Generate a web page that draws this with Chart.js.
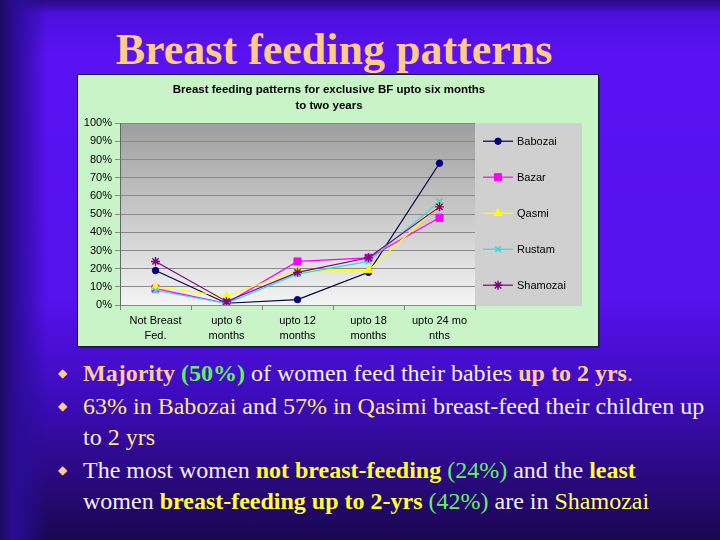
<!DOCTYPE html>
<html>
<head>
<meta charset="utf-8">
<script src="https://cdn.jsdelivr.net/npm/chart.js@4.4.0/dist/chart.umd.min.js"></script>
<style>
  html, body { margin: 0; padding: 0; }
  #slide {
    position: relative; width: 720px; height: 540px; overflow: hidden;
    background:
      linear-gradient(to right, #1c0a5e 0px, #2a0c96 14px, rgba(60,14,200,0) 48px),
      linear-gradient(to bottom, #2a0a86 0px, #4a10dc 14px, #5a12f2 55px, #5611ec 300px, #3e0cc0 390px, #24086e 500px, #1a0650 540px);
  }
  #title {
    position: absolute; left: 0; width: 668px; top: 28px; text-align: center;
    font: bold 44px/44px "Liberation Serif", "Times New Roman", serif;
    color: #ffcc88; white-space: nowrap;
  }
  #box {
    position: absolute; left: 78px; top: 75px; width: 520px; height: 271px;
    background: #c8f4c8; outline: 1px solid #1c1840;
    box-shadow: 2px 2px 0 #2a2060;
  }
  #box canvas { display: block; }
  #bullets {
    position: absolute; left: 83px; top: 358px;
    font: 24px/31px "Liberation Serif", "Times New Roman", serif;
    color: #f4eeff; white-space: nowrap;
  }
  #bullets p { position: relative; margin: 0 0 2px 0; }
  #bullets p::before {
    content: "\25C6"; position: absolute; left: -25px; top: 0;
    font: 12px/31px "DejaVu Sans", sans-serif; color: #ffcc90;
  }
  .pe { color: #ffcc99; }
  .gr { color: #66ee66; }
  .ye { color: #ffe680; }
  .yb { color: #ffff33; font-weight: bold; }
  .ys { color: #ffff66; }
  b { font-weight: bold; }
</style>
</head>
<body>
<div id="slide">
  <div id="title">Breast feeding patterns</div>
  <div id="box"><canvas id="chart" width="520" height="271"></canvas></div>
  <div id="bullets">
    <p><b class="pe">Majority</b> <b class="gr">(50%)</b> of women feed their babies <b class="pe">up to 2 yrs</b><span class="pe">.</span></p>
    <p><span class="ye">63% in Babozai</span> and <span class="ye">57% in Qasimi</span> breast-feed their children up<br>to <span class="ye">2 yrs</span></p>
    <p>The most women <span class="yb">not breast-feeding</span> <span class="gr">(24%)</span> and the <span class="yb">least</span><br>women <span class="yb">breast-feeding up to 2-yrs</span> <span class="gr">(42%)</span> are in <span class="ys">Shamozai</span></p>
  </div>
</div>

<script>
const categories = [['Not Breast', 'Fed.'], ['upto 6', 'months'], ['upto 12', 'months'], ['upto 18', 'months'], ['upto 24 mo', 'nths']];
const seriesNames = ['Babozai', 'Bazar', 'Qasmi', 'Rustam', 'Shamozai'];
const babozai = [19, 1, 3, 18, 78];
const bazar = [9, 1, 24, 26, 48];
const qasmi = [10, 5, 19, 19, 55];
const rustam = [8, 1, 17, 24, 57];
const shamozai = [24, 2, 18, 26, 54];
const yTicks = [0, 10, 20, 30, 40, 50, 60, 70, 80, 90, 100];
const chartTitle = ['Breast feeding patterns for exclusive BF upto six months', 'to two years'];

const seriesValues = [babozai, bazar, qasmi, rustam, shamozai];
const looks = [
    { line: '#000040', point: '#000080', style: 'circle', r: 3.2, bw: 1 },
    { line: '#ff00ff', point: '#ff00ff', style: 'rect', r: 5, bw: 1 },
    { line: '#ffff00', point: '#ffff00', style: 'triangle', r: 4.5, bw: 1 },
    { line: '#33dddd', point: '#33dddd', style: 'crossRot', r: 4, bw: 1.6 },
    { line: '#800080', point: '#800080', style: 'star', r: 4.5, bw: 1.4 }
];
const font = 'Liberation Sans, Arial, sans-serif';

// gray gradient behind the plot, gray box behind the legend
const plotBg = {
    id: 'plotBg',
    beforeDraw(chart) {
        const { ctx, chartArea: a } = chart;
        const g = ctx.createLinearGradient(0, a.top, 0, a.bottom);
        g.addColorStop(0, '#9e9e9e');
        g.addColorStop(1, '#f4f4f4');
        ctx.save();
        ctx.fillStyle = g;
        ctx.fillRect(a.left, a.top, a.width, a.bottom - a.top);
        ctx.fillStyle = '#d0d0d0';
        ctx.fillRect(a.right, a.top, 107, a.bottom - a.top + 1);
        ctx.restore();
    }
};

function marker(ctx, look, x, y) {
    ctx.fillStyle = look.point;
    ctx.strokeStyle = look.point;
    ctx.lineWidth = look.bw;
    if (Chart.helpers && Chart.helpers.drawPoint) {
        Chart.helpers.drawPoint(ctx, { pointStyle: look.style, radius: look.r, rotation: 0, borderWidth: look.bw }, x, y);
    } else {
        ctx.beginPath(); ctx.arc(x, y, look.r, 0, Math.PI * 2); ctx.fill();
    }
}

const sideLegend = {
    id: 'sideLegend',
    afterDraw(chart) {
        const { ctx, chartArea: a } = chart;
        ctx.save();
        chart.data.datasets.forEach((ds, i) => {
            const look = looks[i];
            const y = a.top + 18 + 36 * i;
            const x0 = a.right + 8;
            ctx.strokeStyle = look.line;
            ctx.lineWidth = 1.2;
            ctx.beginPath(); ctx.moveTo(x0, y); ctx.lineTo(x0 + 30, y); ctx.stroke();
            marker(ctx, look, x0 + 15, y);
            ctx.fillStyle = '#000';
            ctx.font = '11px ' + font;
            ctx.textBaseline = 'middle';
            ctx.fillText(ds.label, x0 + 34, y + 0.5);
        });
        ctx.restore();
    }
};

new Chart(document.getElementById('chart'), {
    type: 'line',
    data: {
        labels: categories,
        datasets: seriesNames.map((name, i) => ({
            label: name,
            data: seriesValues[i],
            borderColor: looks[i].line,
            borderWidth: 1.2,
            backgroundColor: looks[i].point,
            pointStyle: looks[i].style,
            pointRadius: looks[i].r,
            pointBackgroundColor: looks[i].point,
            pointBorderColor: looks[i].point,
            pointBorderWidth: looks[i].bw,
            tension: 0,
            fill: false,
            order: seriesNames.length - i
        }))
    },
    options: {
        responsive: false,
        animation: false,
        layout: { padding: { left: 4, right: 22, top: 0, bottom: 0 } },
        plugins: {
            legend: { display: false },
            tooltip: { enabled: false },
            title: {
                display: true,
                text: chartTitle,
                color: '#000',
                font: { family: font, size: 11.5, weight: 'bold', lineHeight: 1.4 },
                padding: { top: 7, bottom: 9 }
            }
        },
        scales: {
            x: {
                offset: true,
                grid: { offset: true, drawOnChartArea: false, drawTicks: true, tickLength: 5, color: '#808080' },
                border: { color: '#888' },
                ticks: { color: '#000', font: { family: font, size: 11, lineHeight: 1.36 }, padding: 3, maxRotation: 0, autoSkip: false }
            },
            y: {
                min: 0, max: 100,
                afterBuildTicks(s) { s.ticks = yTicks.map(v => ({ value: v })); },
                grid: { color: '#8a8a8a', tickLength: 5 },
                border: { color: '#666' },
                ticks: { color: '#000', font: { family: font, size: 11 }, padding: 3, callback: v => v + '%' },
                afterFit(s) { s.width = 38; }
            },
            legendSpace: {
                type: 'linear', position: 'right',
                ticks: { display: false }, grid: { display: false }, border: { display: false },
                afterFit(s) { s.width = 101; }
            }
        }
    },
    plugins: [plotBg, sideLegend]
});
</script>
</body>
</html>
